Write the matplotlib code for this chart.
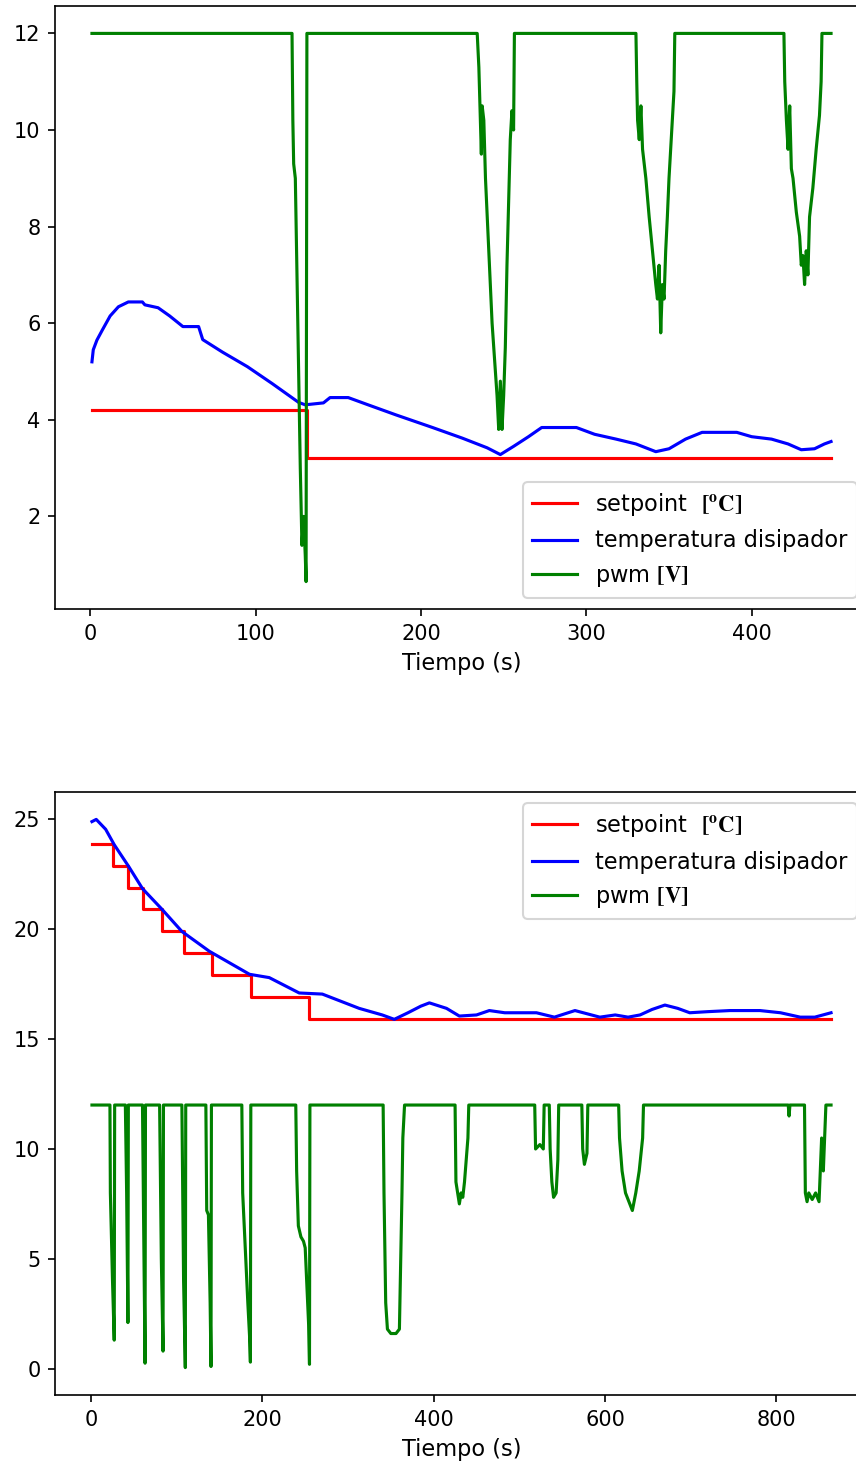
import matplotlib
matplotlib.use('Agg')
import matplotlib.pyplot as plt

plt.rcParams['mathtext.fontset'] = 'stix'

# ---- primera prueba (setpoint 4.2 -> 3.2) ----
t_sp1 = [1, 131, 448]
sp1 = [4.2, 3.2, 3.2]

t_temp1 = [1, 1.8, 4, 7.3, 12, 17, 23, 31.5, 33, 41, 48, 56, 65.5, 68, 80, 95, 110, 126, 130,
           141, 145, 156, 168, 185, 207, 225, 240, 248, 256, 265, 273, 294, 305, 318, 330, 342,
           350, 360, 370, 391, 400, 412, 422, 430, 438, 444, 448]
temp1 = [5.2, 5.45, 5.65, 5.86, 6.15, 6.34, 6.44, 6.44, 6.38, 6.32, 6.15, 5.93, 5.93, 5.66, 5.4,
         5.1, 4.75, 4.36, 4.31, 4.35, 4.46, 4.46, 4.31, 4.1, 3.84, 3.62, 3.42, 3.28, 3.45, 3.65,
         3.84, 3.84, 3.7, 3.6, 3.5, 3.34, 3.4, 3.6, 3.74, 3.74, 3.65, 3.6, 3.5, 3.38, 3.4, 3.5, 3.55]

t_pwm1 = [1, 122, 122.5, 123, 124, 125, 126, 127, 128, 129, 130, 130.5, 131,
          234, 235, 236, 236.5, 237, 238, 239, 241, 243, 245, 246, 247, 248, 249, 250, 251, 252,
          253, 254, 255, 256, 256.5,
          330, 330.5, 331, 332, 333, 334, 336, 338, 340, 342, 343, 344, 345, 346, 347, 348, 349,
          350, 351, 352, 353, 353.5,
          419.5, 420, 421, 422, 423, 424, 425, 427, 429, 430, 431, 432, 433, 434, 435, 437, 439,
          441, 442, 442.5, 448]
pwm1 = [12, 12, 10.2, 9.3, 9.0, 7.0, 5.0, 3.0, 1.4, 2.0, 1.2, 0.65, 12,
        12, 11.3, 10.1, 9.5, 10.5, 10.2, 9.0, 7.5, 6.0, 5.0, 4.5, 3.8, 4.8, 3.8, 4.5, 5.5, 7.2,
        8.5, 9.8, 10.4, 10.0, 12,
        12, 11.0, 10.2, 9.8, 10.5, 9.6, 9.0, 8.2, 7.5, 6.8, 6.5, 7.2, 5.8, 6.8, 6.5, 7.5, 8.2,
        9.0, 9.6, 10.2, 10.8, 12,
        12, 11.0, 10.2, 9.6, 10.5, 9.2, 9.0, 8.3, 7.8, 7.2, 7.4, 6.8, 7.5, 7.0, 8.2, 8.8, 9.6,
        10.3, 11.0, 12, 12]

# ---- segunda prueba (escalones 23.9 -> 15.9) ----
t_sp2 = [1, 25, 43, 61, 83, 109, 141, 187, 255, 864]
sp2 = [23.9, 22.9, 21.9, 20.9, 19.9, 18.9, 17.9, 16.9, 15.9, 15.9]

t_temp2 = [1, 6, 17, 27, 44, 60, 83, 106, 138, 185, 208, 243, 270, 313, 340, 354, 370, 385,
           395, 415, 430, 450, 465, 483, 500, 520, 541, 565, 594, 612, 627, 641, 655, 670, 685,
           699, 720, 746, 781, 805, 828, 845, 864]
temp2 = [24.9, 25.0, 24.55, 23.85, 22.85, 21.85, 20.9, 19.9, 19.0, 17.95, 17.8, 17.1, 17.05,
         16.4, 16.1, 15.9, 16.2, 16.5, 16.65, 16.4, 16.05, 16.1, 16.3, 16.2, 16.2, 16.2, 16.0,
         16.3, 16.0, 16.1, 16.0, 16.1, 16.35, 16.55, 16.4, 16.2, 16.25, 16.3, 16.3, 16.2, 16.0,
         16.0, 16.2]

t_pwm2 = [1, 22, 22.5, 25, 27, 27.5,
          40, 41.5, 43, 43.5,
          60, 61.5, 63, 63.5,
          80, 82, 84, 84.5,
          106, 108, 110, 110.5,
          134, 135, 137, 139, 140, 140.5,
          176, 177, 180, 183, 185, 186, 186.5,
          239, 240, 242, 245, 248, 250, 254, 255, 255.5,
          341, 342, 344, 346, 350, 356, 360, 363, 364, 366,
          425, 426, 428, 430, 432, 434, 436, 440, 441,
          518, 519, 524, 528, 529,
          535, 536, 538, 540, 543, 545, 546,
          573, 574, 576, 579, 580,
          616, 617, 620, 624, 628, 632, 636, 640, 644, 645,
          814, 815, 816,
          833, 834, 836, 838, 842, 846, 850, 853, 855, 857, 858, 864]
pwm2 = [12, 12, 8.0, 4.0, 1.3, 12,
        12, 8.0, 2.1, 12,
        12, 6.0, 0.25, 12,
        12, 5.0, 0.8, 12,
        12, 4.0, 0.05, 12,
        12, 7.2, 7.0, 3.0, 0.1, 12,
        12, 8.0, 5.5, 3.0, 1.5, 0.3, 12,
        12, 9.0, 6.5, 6.0, 5.8, 5.5, 2.0, 0.2, 12,
        12, 8.0, 3.0, 1.8, 1.6, 1.6, 1.8, 8.0, 10.5, 12,
        12, 8.5, 8.0, 7.5, 8.0, 7.8, 8.5, 10.5, 12,
        12, 10.0, 10.2, 10.0, 12,
        12, 10.0, 8.5, 7.8, 8.0, 9.5, 12,
        12, 10.0, 9.3, 9.8, 12,
        12, 10.5, 9.0, 8.0, 7.6, 7.2, 8.0, 9.0, 10.5, 12,
        12, 11.5, 12,
        12, 8.0, 7.6, 8.0, 7.7, 8.0, 7.6, 10.5, 9.0, 11.0, 12, 12]

lab_sp = r'setpoint  $\mathbf{[^oC]}$'
lab_temp = 'temperatura disipador'
lab_pwm = r'pwm $\mathbf{[V]}$'

fig = plt.figure(figsize=(856 / 150, 1466 / 150), dpi=150)
# los ejes se salen un poco por la derecha, como en la captura original
ax1 = fig.add_axes([55 / 856, 1 - 609 / 1466, 813 / 856, 603 / 1466])
ax2 = fig.add_axes([55 / 856, 1 - 1395 / 1466, 813 / 856, 603 / 1466])

ax1.plot(t_sp1, sp1, color='red', drawstyle='steps-post', label=lab_sp)
ax1.plot(t_temp1, temp1, color='blue', label=lab_temp)
ax1.plot(t_pwm1, pwm1, color='green', label=lab_pwm)
ax1.set_xlabel('Tiempo (s)', fontsize=10.8)
ax1.legend(loc='lower right', fontsize=10.8)

ax2.plot(t_sp2, sp2, color='red', drawstyle='steps-post', label=lab_sp)
ax2.plot(t_temp2, temp2, color='blue', label=lab_temp)
ax2.plot(t_pwm2, pwm2, color='green', label=lab_pwm)
ax2.set_xlabel('Tiempo (s)', fontsize=10.8)
ax2.legend(loc='upper right', fontsize=10.8)

fig.savefig('out.png', dpi=150)
